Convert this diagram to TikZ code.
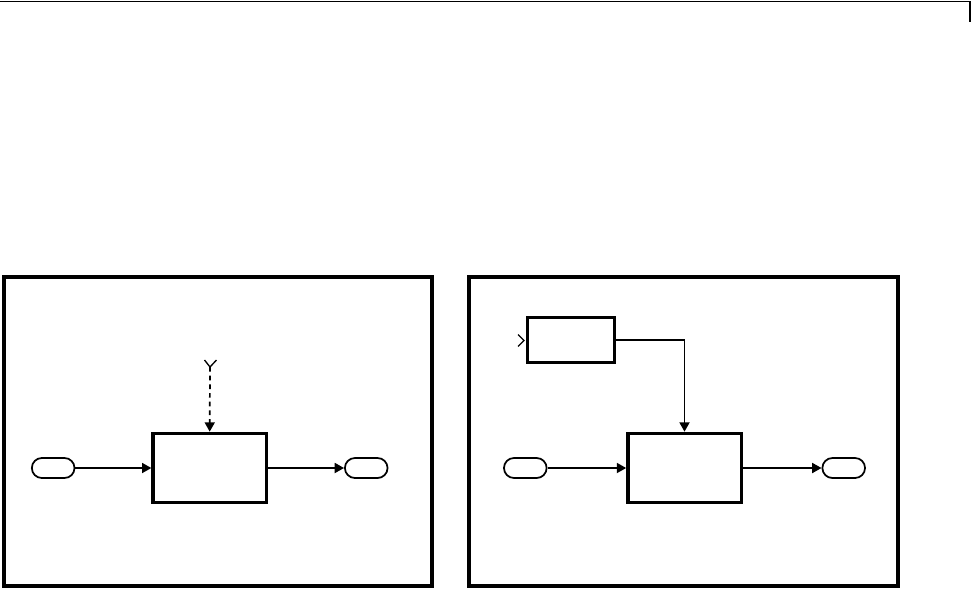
\documentclass[tikz,border=0pt]{standalone}
\usetikzlibrary{arrows.meta, positioning, calc}

\tikzset{
  blk/.style={draw, line width=2.5pt, minimum width=85pt, minimum height=52pt, inner sep=0pt},
  port/.style={draw, line width=1.3pt, rounded corners=7.5pt, minimum width=32pt, minimum height=15pt, inner sep=0pt},
  conn/.style={line width=1.3pt, -{Triangle[length=7pt,width=7.5pt]}},
  frame/.style={line width=2.4pt},
  tailmark/.style={line width=1pt},
}

\begin{document}
\begin{tikzpicture}[x=0.75pt, y=-0.75pt, node distance=57pt]
  \useasboundingbox (0,0) rectangle (973,589);
  % page rule
  \draw[line width=1.2pt] (0,1.5) -| (970,22);

  % left panel
  \draw[frame] (4,277) rectangle (432,586);
  \node (lblk) [blk] at (209.7,468) {};
  \node (lin) [port, left=of lblk] {};
  \node (lout) [port, right=of lblk] {};
  \coordinate (ytip) at (210,367);
  \draw[tailmark] (204.5,360) -- (ytip) -- (216.5,360);
  \draw[conn] (lin) -- (lblk);
  \draw[conn] (lblk) -- (lout);
  \draw[conn, dash pattern=on 3.5pt off 3pt] (ytip) -- (lblk.north);

  % right panel
  \draw[frame] (469,277) rectangle (898,586);
  \node (rblk) [blk] at (684.5,468) {};
  \node (rin) [port, left=59pt of rblk] {};
  \node (rout) [port, right=59pt of rblk] {};
  \node (sig) [blk, minimum width=65pt, minimum height=34pt] at (571,340) {};
  \coordinate (stip) at (524,340.5);
  \draw[tailmark] (518,334.5) -- (stip) -- (518,346.5);
  \draw[conn] (rin) -- (rblk);
  \draw[conn] (rblk) -- (rout);
  \draw[conn] (sig.east) -| (rblk.north);
\end{tikzpicture}
\end{document}
